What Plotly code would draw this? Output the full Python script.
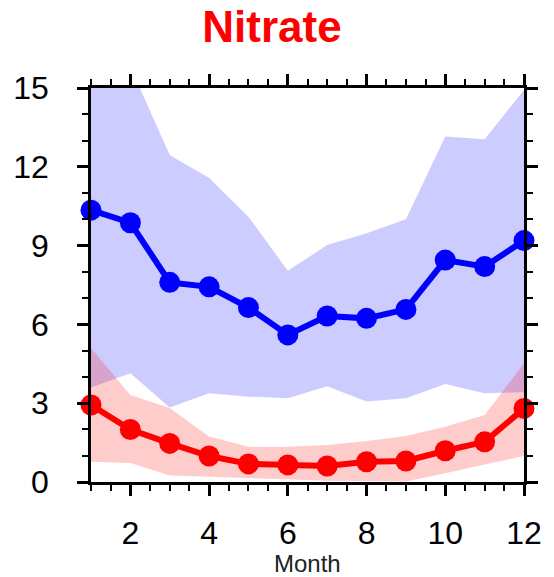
import plotly.graph_objects as go

months = list(range(1, 13))
blue_mean = [10.35, 9.87, 7.60, 7.43, 6.64, 5.60, 6.32, 6.23, 6.57, 8.45, 8.20, 9.19]
blue_upper = [17.0, 15.8, 12.45, 11.57, 10.1, 8.04, 9.02, 9.47, 10.0, 13.15, 13.05, 14.92]
blue_lower = [3.6, 4.14, 2.84, 3.38, 3.25, 3.19, 3.65, 3.06, 3.19, 3.73, 3.38, 3.42]
red_mean = [2.93, 2.0, 1.47, 0.99, 0.69, 0.65, 0.61, 0.77, 0.80, 1.19, 1.53, 2.80]
red_upper = [5.1, 3.31, 2.82, 1.73, 1.34, 1.34, 1.41, 1.56, 1.75, 2.10, 2.55, 4.52]
red_lower = [0.77, 0.72, 0.25, 0.2, 0.15, 0.08, 0.05, 0.03, 0.02, 0.33, 0.65, 0.99]

x_ticks = [2, 4, 6, 8, 10, 12]
y_ticks = [0, 3, 6, 9, 12, 15]

FONT = "Liberation Sans, Arial, sans-serif"

fig = go.Figure()

# blue band
fig.add_trace(go.Scatter(x=months, y=blue_lower, mode="lines", line=dict(width=0),
                         showlegend=False, hoverinfo="skip"))
fig.add_trace(go.Scatter(x=months, y=blue_upper, mode="lines", line=dict(width=0),
                         fill="tonexty", fillcolor="rgba(0,0,255,0.2)",
                         showlegend=False, hoverinfo="skip"))
# red band
fig.add_trace(go.Scatter(x=months, y=red_lower, mode="lines", line=dict(width=0),
                         showlegend=False, hoverinfo="skip"))
fig.add_trace(go.Scatter(x=months, y=red_upper, mode="lines", line=dict(width=0),
                         fill="tonexty", fillcolor="rgba(255,0,0,0.2)",
                         showlegend=False, hoverinfo="skip"))
# mean lines
fig.add_trace(go.Scatter(x=months, y=blue_mean, mode="lines+markers",
                         line=dict(color="#0000ff", width=6),
                         marker=dict(color="#0000ff", size=21),
                         cliponaxis=False, showlegend=False))
fig.add_trace(go.Scatter(x=months, y=red_mean, mode="lines+markers",
                         line=dict(color="#ff0000", width=6),
                         marker=dict(color="#ff0000", size=21),
                         cliponaxis=False, showlegend=False))

axis_common = dict(
    showgrid=False, zeroline=False, showline=True, linecolor="black", linewidth=2.5,
    mirror="ticks", ticks="outside", ticklen=11, tickwidth=2.5, tickcolor="black",
    tickfont=dict(family=FONT, size=32, color="black"),
)

fig.update_xaxes(range=[1, 12], tickmode="array", tickvals=x_ticks,
                 ticklabelstandoff=10,
                 minor=dict(dtick=0.5, tick0=1, ticklen=6, tickwidth=2, tickcolor="black",
                            ticks="outside", showgrid=False),
                 **axis_common)
fig.update_yaxes(range=[0, 15], tickmode="array", tickvals=y_ticks,
                 ticklabelstandoff=22,
                 minor=dict(dtick=1, tick0=0, ticklen=6, tickwidth=2, tickcolor="black",
                            ticks="outside", showgrid=False),
                 **axis_common)

fig.update_layout(
    width=554, height=577,
    margin=dict(l=91, r=22, t=88, b=95),
    paper_bgcolor="white", plot_bgcolor="white",
    title=dict(text="<b>Nitrate</b>", x=272 / 554, xref="container", xanchor="center",
               y=1 - 27 / 577, yref="container", yanchor="middle",
               font=dict(family=FONT, size=44, color="#ff0000")),
    annotations=[dict(text="Month", x=0.5, xref="paper", y=-0.2056, yref="paper",
                      xanchor="center", yanchor="middle", showarrow=False,
                      font=dict(family=FONT, size=24, color="#222222"))],
)

fig.write_html("out.html")
